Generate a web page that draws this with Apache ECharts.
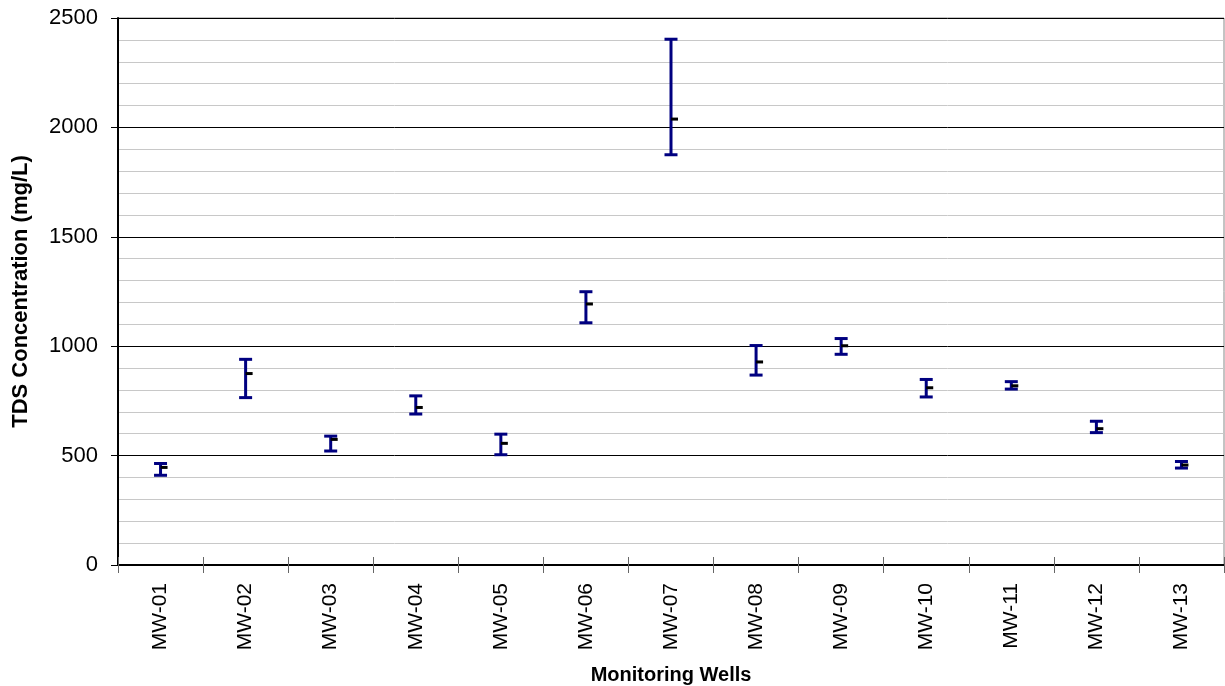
<!DOCTYPE html>
<html>
<head>
<meta charset="utf-8">
<script src="https://cdn.jsdelivr.net/npm/echarts@6/dist/echarts.min.js"></script>
<style>
html,body{margin:0;padding:0;background:#fff;}
#chart{width:1225px;height:686px;}
</style>
</head>
<body>
<div id="chart"></div>
<script>
const categories = ['MW-01','MW-02','MW-03','MW-04','MW-05','MW-06','MW-07','MW-08','MW-09','MW-10','MW-11','MW-12','MW-13'];
const maxValues  = [464, 940, 589, 773, 598, 1249, 2403, 1003, 1035, 848, 838, 657, 473];
const minValues  = [410, 765, 521, 690, 504, 1107, 1875, 868, 963, 768, 804, 605, 443];
const meanValues = [446, 875, 574, 720, 556, 1193, 2038, 928, 1002, 810, 819, 623, 457];
const yTicks = [0, 500, 1000, 1500, 2000, 2500];

const data = categories.map((c, i) => [i, maxValues[i], minValues[i], meanValues[i]]);

const FONT = '"Liberation Sans", Arial, sans-serif';
const chart = echarts.init(document.getElementById('chart'));

const option = {
  animation: false,
  backgroundColor: '#fff',
  grid: {
    left: 118, top: 18, right: 1, bottom: 121,
    containLabel: false,
    outerBoundsMode: 'none',
    show: true, borderColor: '#888', borderWidth: 1
  },
  xAxis: [{
    type: 'category',
    data: categories,
    position: 'bottom',
    boundaryGap: true,
    name: 'Monitoring Wells',
    nameLocation: 'middle',
    nameGap: 100,
    nameTextStyle: { fontFamily: FONT, fontWeight: 'bold', fontSize: 20, color: '#000' },
    axisLine: { show: true, lineStyle: { color: '#000', width: 2 } },
    axisTick: { show: true, inside: false, length: 8, lineStyle: { color: '#666', width: 1 } },
    axisLabel: { rotate: 90, margin: 18, fontFamily: FONT, fontSize: 21, color: '#000' },
    splitLine: { show: false }
  }, {
    type: 'category',
    data: categories,
    position: 'bottom',
    boundaryGap: true,
    axisLine: { show: false },
    axisTick: { show: true, inside: true, length: 8, lineStyle: { color: '#666', width: 1 } },
    axisLabel: { show: false },
    splitLine: { show: false }
  }],
  yAxis: {
    type: 'value',
    min: yTicks[0],
    max: yTicks[yTicks.length - 1],
    interval: 500,
    name: 'TDS Concentration (mg/L)',
    nameLocation: 'middle',
    nameGap: 86,
    nameTextStyle: { fontFamily: FONT, fontWeight: 'bold', fontSize: 22, color: '#000' },
    axisLine: { show: true, lineStyle: { color: '#000', width: 2 } },
    axisTick: { show: true, inside: false, length: 7, lineStyle: { color: '#000', width: 1 } },
    axisLabel: { margin: 20, fontFamily: FONT, fontSize: 22, color: '#000', formatter: function (v) { return String(v); } },
    splitLine: { show: true, lineStyle: { color: '#000', width: 1 } },
    minorTick: { show: false, splitNumber: 5 },
    minorSplitLine: { show: true, lineStyle: { color: '#c8c8c8', width: 1 } }
  },
  series: [{
    type: 'custom',
    xAxisIndex: 0,
    data: data,
    encode: { x: 0, y: [1, 2, 3] },
    renderItem: function (params, api) {
      const x = api.value(0);
      const pHi = api.coord([x, api.value(1)]);
      const pLo = api.coord([x, api.value(2)]);
      const pMean = api.coord([x, api.value(3)]);
      const cx = pHi[0];
      const hw = 6.5;
      const blue = { stroke: '#000080', lineWidth: 3 };
      return {
        type: 'group',
        children: [
          { type: 'line', shape: { x1: cx, y1: pHi[1], x2: cx, y2: pLo[1] }, style: blue },
          { type: 'line', shape: { x1: cx - hw, y1: pHi[1], x2: cx + hw, y2: pHi[1] }, style: blue },
          { type: 'line', shape: { x1: cx - hw, y1: pLo[1], x2: cx + hw, y2: pLo[1] }, style: blue },
          { type: 'line', shape: { x1: cx, y1: pMean[1], x2: cx + 7, y2: pMean[1] }, style: { stroke: '#000', lineWidth: 3 } }
        ]
      };
    }
  }]
};
chart.setOption(option);
</script>
</body>
</html>
